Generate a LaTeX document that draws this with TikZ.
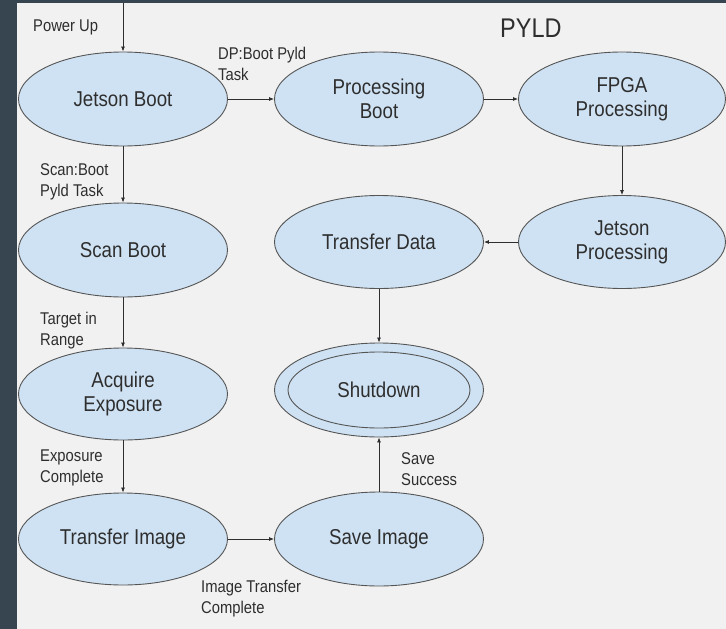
\documentclass[tikz,border=0pt]{standalone}
\usepackage{fontspec}
\setmainfont{Liberation Sans}[FakeStretch=0.87]
\usetikzlibrary{shapes.geometric,arrows.meta}

\definecolor{slate}{HTML}{36454F}
\definecolor{paper}{HTML}{F1F1F1}
\definecolor{statefill}{HTML}{CFE2F3}
\definecolor{stateline}{HTML}{555555}
\definecolor{ink}{HTML}{2E2E2E}

\tikzset{
  state/.style={ellipse, draw=stateline, fill=statefill, line width=0.9pt,
                inner sep=0pt, align=center, text=ink,
                font=\fontsize{21.5}{24}\selectfont,
                minimum width=209pt, minimum height=94pt},
  guard/.style={anchor=north west, inner sep=0pt, align=left, text=ink,
                font=\fontsize{17}{21}\selectfont},
  flow/.style={draw=ink, line width=0.8pt, -{Latex[length=5pt,width=4pt]}}
}

\begin{document}
\begin{tikzpicture}[x=1pt, y=-1pt]
    % Frame

    \useasboundingbox (0,0) rectangle (726,629);
    \fill [slate] (0,0) rectangle (726,629);
    \fill [paper] (17,3) rectangle (726,629);
    \node (title) [anchor=north west, inner sep=0pt, text=ink,
                   font=\fontsize{27}{30}\selectfont]
          at (500,19) {PYLD};

    % Scan chain

    \coordinate (powerin) at (123,3);
    \node (jetsonboot) [state] at (123,99) {Jetson Boot};
    \node (scanboot) [state] at (123,250) {Scan Boot};
    \node (acquire) [state, minimum height=92pt]
          at (123,394) {Acquire \\ Exposure};
    \node (transferimage) [state, minimum height=92pt]
          at (123,539) {Transfer Image};
    \draw [flow] (powerin) -- (jetsonboot.north);
    \draw [flow] (jetsonboot) -- (scanboot);
    \draw [flow] (scanboot) -- (acquire);
    \draw [flow] (acquire) -- (transferimage);

    % Processing chain

    \node (procboot) [state] at (379,99) {Processing \\ Boot};
    \node (fpga) [state, minimum width=207pt]
          at (622,99) {FPGA \\ Processing};
    \node (jetsonproc) [state, minimum width=207pt, minimum height=93pt]
          at (622,242) {Jetson \\ Processing};
    \node (transferdata) [state, minimum height=93pt]
          at (379,242) {Transfer Data};
    \draw [flow] (jetsonboot) -- (procboot);
    \draw [flow] (procboot) -- (fpga);
    \draw [flow] (fpga) -- (jetsonproc);
    \draw [flow] (jetsonproc) -- (transferdata);

    % Save and shutdown

    \node (saveimage) [state] at (379,539) {Save Image};
    \node (shutdown) [state] at (379,390) {};
    \node (shutdowncore) [state, fill=none, minimum width=182pt,
                          minimum height=76pt]
          at (shutdown) {Shutdown};
    \draw [flow] (transferimage) -- (saveimage);
    \draw [flow] (saveimage) -- (shutdown);
    \draw [flow] (transferdata) -- (shutdown);

    % Transition labels

    \node (powerup) [guard] at (33,20) {Power Up};
    \node (dpguard) [guard] at (218,47) {DP:Boot Pyld \\ Task};
    \node (scanguard) [guard] at (40,163) {Scan:Boot \\ Pyld Task};
    \node (targetguard) [guard] at (40,312) {Target in \\ Range};
    \node (exposureguard) [guard] at (40,450) {Exposure \\ Complete};
    \node (transferguard) [guard] at (201,580) {Image Transfer \\ Complete};
    \node (saveguard) [guard] at (401,452) {Save \\ Success};
\end{tikzpicture}
\end{document}
